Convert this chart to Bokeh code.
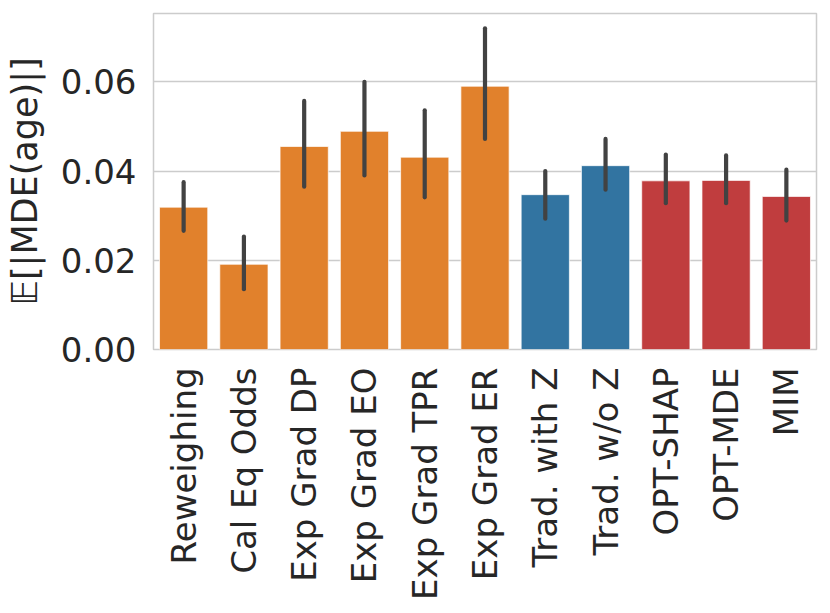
import math
from bokeh.plotting import figure
from bokeh.models import ColumnDataSource, FixedTicker, NumeralTickFormatter, Range1d, FactorRange
from bokeh.embed import file_html
from bokeh.resources import INLINE

categories = ["Reweighing", "Cal Eq Odds", "Exp Grad DP", "Exp Grad EO", "Exp Grad TPR",
              "Exp Grad ER", "Trad. with Z", "Trad. w/o Z", "OPT-SHAP", "OPT-MDE", "MIM"]
means = [0.0319, 0.0191, 0.0455, 0.0489, 0.0431, 0.0590, 0.0347, 0.0412, 0.0378, 0.0379, 0.0343]
err_low = [0.0266, 0.0135, 0.0365, 0.0390, 0.0341, 0.0472, 0.0293, 0.0358, 0.0328, 0.0328, 0.0289]
err_high = [0.0375, 0.0253, 0.0557, 0.0600, 0.0536, 0.0720, 0.0400, 0.0472, 0.0437, 0.0435, 0.0403]
groups = ["baseline"] * 6 + ["trad"] * 2 + ["ours"] * 3
group_colors = {"baseline": "#e1812c", "trad": "#3274a1", "ours": "#c03d3e"}
y_ticks = [0.0, 0.02, 0.04, 0.06]

colors = [group_colors[g] for g in groups]
src = ColumnDataSource(dict(cat=categories, mean=means, lo=err_low, hi=err_high, color=colors))

FONT = "DejaVu Sans"
TXT = "#262626"

p = figure(width=822, height=605, x_range=FactorRange(*categories), y_range=Range1d(0, 0.0753),
           output_backend="svg", toolbar_location=None,
           min_border_left=153, min_border_right=6, min_border_top=13, min_border_bottom=256)

p.vbar(x="cat", top="mean", width=0.8, source=src, fill_color="color",
       line_color="white", line_width=1, line_alpha=0.7)
p.segment(x0="cat", y0="lo", x1="cat", y1="hi", source=src, line_color="#424242",
          line_width=4.2, line_cap="round")

p.outline_line_color = "#cccccc"
p.outline_line_width = 1.5
p.background_fill_color = "white"
p.border_fill_color = "white"

p.xgrid.grid_line_color = None
p.ygrid.grid_line_color = "#cccccc"
p.ygrid.grid_line_width = 1.6

p.yaxis.ticker = FixedTicker(ticks=y_ticks)
p.yaxis.formatter = NumeralTickFormatter(format="0.00")

for ax in (p.xaxis, p.yaxis):
    ax.axis_line_color = None
    ax.major_tick_line_color = None
    ax.minor_tick_line_color = None
    ax.major_tick_out = 0
    ax.major_tick_in = 0
    ax.major_label_text_font = FONT
    ax.major_label_text_font_size = "34px"
    ax.major_label_text_color = TXT

p.yaxis.major_label_standoff = 17
p.xaxis.major_label_standoff = 18
p.xaxis.major_label_orientation = math.pi / 2
p.yaxis.axis_label = "𝔼[|MDE(age)|]"
p.yaxis.axis_label_text_font = FONT
p.yaxis.axis_label_text_font_size = "35px"
p.yaxis.axis_label_text_font_style = "normal"
p.yaxis.axis_label_text_color = TXT
p.yaxis.axis_label_standoff = 13

open("out.html", "w").write(file_html(p, INLINE))
